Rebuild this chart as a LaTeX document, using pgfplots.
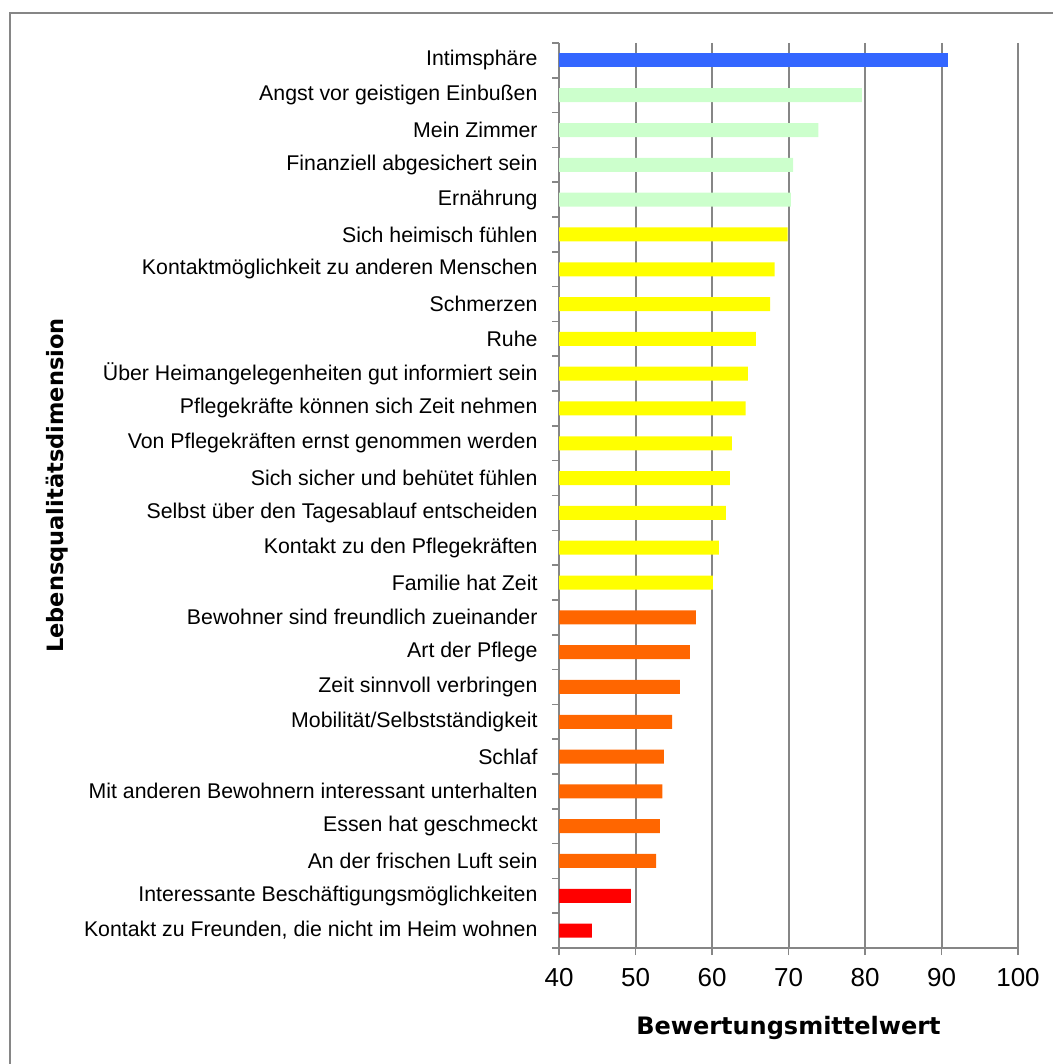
\documentclass[border=0pt]{standalone}
\usepackage{pgfplots}
\pgfplotsset{compat=1.18}
\usepackage{fontspec}
\setmainfont{Liberation Sans}
\newfontfamily\boldfont{DejaVu Sans}
\definecolor{gridgray}{HTML}{868686}
\definecolor{cblue}{HTML}{3366FF}
\definecolor{cgreen}{HTML}{CCFFCC}
\definecolor{cyellow}{HTML}{FFFF00}
\definecolor{corange}{HTML}{FF6600}
\definecolor{cred}{HTML}{FF0000}
\begin{document}
\begin{tikzpicture}[x=1pt,y=1pt]
\path[use as bounding box] (0,0) rectangle (1053,1064);
% outer chart frame
\draw[gridgray, line width=1.5pt] (10,0) -- (10,1051) -- (1053,1051);
\begin{axis}[
  at={(559pt,116pt)}, anchor=south west,
  scale only axis, width=459pt, height=905pt,
  xmin=40, xmax=100, xtick={40,50,...,100},
  ymin=-0.5, ymax=25.5, y dir=reverse,
  ytick={-0.5,0.5,...,25.5}, yticklabels={},
  extra y ticks={0,...,25},
  extra y tick style={major tick length=0pt, grid=none},
  extra y tick labels={
    Intimsphäre,
    Angst vor geistigen Einbußen,
    Mein Zimmer,
    Finanziell abgesichert sein,
    Ernährung,
    Sich heimisch fühlen,
    Kontaktmöglichkeit zu anderen Menschen,
    Schmerzen,
    Ruhe,
    Über Heimangelegenheiten gut informiert sein,
    Pflegekräfte können sich Zeit nehmen,
    Von Pflegekräften ernst genommen werden,
    Sich sicher und behütet fühlen,
    Selbst über den Tagesablauf entscheiden,
    Kontakt zu den Pflegekräften,
    Familie hat Zeit,
    Bewohner sind freundlich zueinander,
    Art der Pflege,
    Zeit sinnvoll verbringen,
    Mobilität/Selbstständigkeit,
    Schlaf,
    Mit anderen Bewohnern interessant unterhalten,
    Essen hat geschmeckt,
    An der frischen Luft sein,
    Interessante Beschäftigungsmöglichkeiten,
    Kontakt zu Freunden{,} die nicht im Heim wohnen},
  yticklabel style={font=\fontsize{21.3}{24}\selectfont, xshift=-18pt},
  xticklabel style={font=\fontsize{26}{30}\selectfont, yshift=-10pt},
  /pgf/number format/assume math mode=true,
  tick align=outside,
  major tick length=7pt,
  tick style={gridgray, line width=1.6pt},
  axis line style={gridgray, line width=1.6pt},
  axis x line*=bottom, axis y line*=left,
  xmajorgrids, major grid style={gridgray, line width=2pt},
  xbar, bar width=14pt, bar shift=0pt,
  xlabel={\boldfont\bfseries Bewertungsmittelwert},
  ylabel={\boldfont\bfseries Lebensqualitätsdimension},
  xlabel style={font=\fontsize{24}{28}\selectfont, yshift=-22pt},
  ylabel style={font=\fontsize{22.5}{26}\selectfont, at={(ticklabel cs:0.511)}, anchor=south, yshift=2pt},
]
\addplot[fill=cblue, draw=none] coordinates {(90.8,0)};
\addplot[fill=cgreen, draw=none] coordinates {
  (79.6,1) (73.9,2) (70.6,3) (70.3,4)};
\addplot[fill=cyellow, draw=none] coordinates {
  (69.9,5) (68.2,6) (67.6,7) (65.75,8) (64.7,9) (64.4,10)
  (62.6,11) (62.35,12) (61.8,13) (60.9,14) (60.1,15)};
\addplot[fill=corange, draw=none] coordinates {
  (57.9,16) (57.1,17) (55.8,18) (54.8,19) (53.7,20)
  (53.5,21) (53.2,22) (52.7,23)};
\addplot[fill=cred, draw=none] coordinates {(49.4,24) (44.3,25)};
\end{axis}
\end{tikzpicture}
\end{document}
